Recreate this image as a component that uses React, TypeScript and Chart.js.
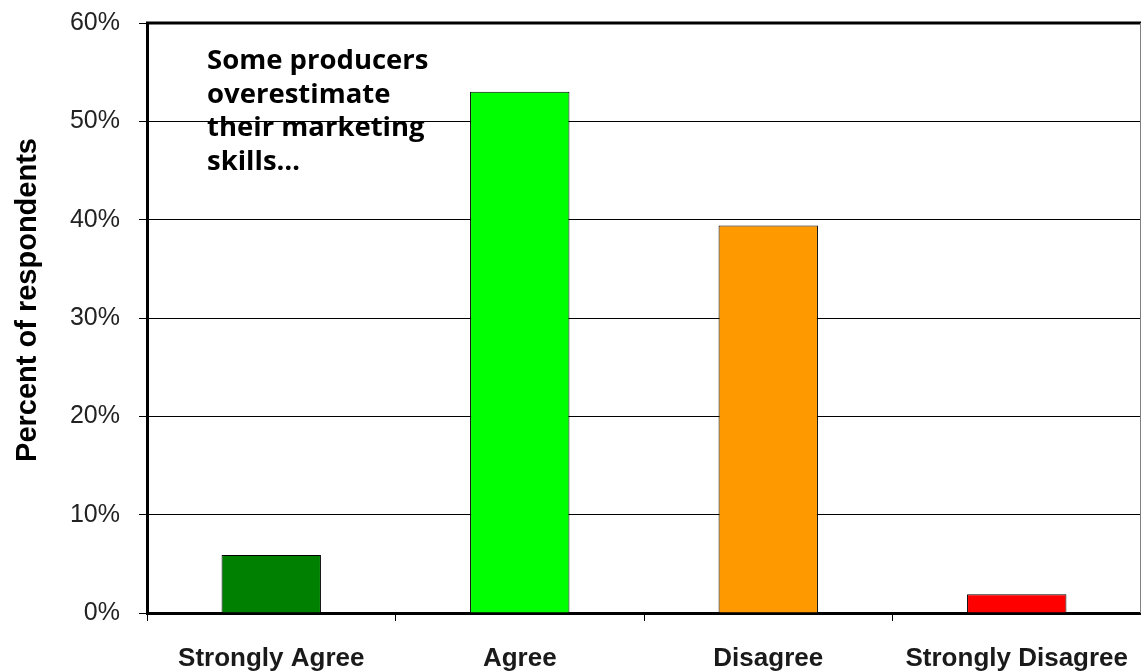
import React, { useEffect, useRef } from "react";
import { Chart, registerables } from "chart.js";

Chart.register(...registerables);

const categories = ["Strongly Agree", "Agree", "Disagree", "Strongly Disagree"];
const percentValues = [5.9, 53.0, 39.4, 1.9];
const barColors = ["#008000", "#00FF00", "#FF9900", "#FF0000"];
const yTickValues = [0, 10, 20, 30, 40, 50, 60];
const annotationLines = ["Some producers", "overestimate", "their marketing", "skills…"];
const yAxisTitle = "Percent of respondents";

const framePlugin = {
  id: "frameAndNote",
  afterDraw(chart: any) {
    const { ctx, chartArea } = chart;
    ctx.save();
    // top border
    ctx.strokeStyle = "#000";
    ctx.lineWidth = 3;
    ctx.beginPath();
    ctx.moveTo(chartArea.left - 1, chartArea.top);
    ctx.lineTo(chartArea.right, chartArea.top);
    ctx.stroke();
    // right border
    ctx.strokeStyle = "#808080";
    ctx.lineWidth = 1;
    ctx.beginPath();
    ctx.moveTo(chartArea.right - 0.5, chartArea.top);
    ctx.lineTo(chartArea.right - 0.5, chartArea.bottom);
    ctx.stroke();
    // y-axis title
    ctx.save();
    ctx.translate(28, 300);
    ctx.rotate(-Math.PI / 2);
    ctx.fillStyle = "#000";
    ctx.font = "bold 29px 'Liberation Sans', Arial";
    ctx.textAlign = "center";
    ctx.textBaseline = "middle";
    ctx.fillText(yAxisTitle, 0, 0);
    ctx.restore();
    // annotation text
    ctx.fillStyle = "#000";
    ctx.font = "bold 27.5px 'Open Sans'";
    ctx.textAlign = "left";
    ctx.textBaseline = "alphabetic";
    const x = chartArea.left + 60;
    annotationLines.forEach((line, i) => {
      ctx.fillText(line, x, chartArea.top + 46 + i * 33.7);
    });
    ctx.restore();
  },
};

export default function App() {
  const canvasRef = useRef<HTMLCanvasElement | null>(null);

  useEffect(() => {
    document.body.style.margin = "0";
    const canvas = canvasRef.current;
    if (!canvas) return;
    const chart = new Chart(canvas, {
      type: "bar",
      data: {
        labels: categories,
        datasets: [
          {
            data: percentValues,
            backgroundColor: barColors,
            borderColor: "#000",
            borderWidth: 1,
            barPercentage: 0.4,
            categoryPercentage: 1,
          },
        ],
      },
      options: {
        animation: false,
        responsive: true,
        maintainAspectRatio: false,
        layout: { padding: { top: 23, right: 0, left: 0, bottom: 0 } },
        plugins: {
          legend: { display: false },
          tooltip: { enabled: false },
        },
        scales: {
          x: {
            offset: true,
            grid: {
              offset: true,
              drawOnChartArea: false,
              drawTicks: true,
              tickLength: 8,
              color: "#000",
              lineWidth: 1,
            },
            border: { color: "#000", width: 3 },
            ticks: {
              autoSkip: false,
              maxRotation: 0,
              minRotation: 0,
              color: "#1a1a1a",
              font: { family: "'Liberation Sans', Arial", size: 26, weight: "bold" },
              padding: 22,
            },
            afterFit: (s: any) => {
              s.height = 59;
              s.paddingLeft = 0;
              s.paddingRight = 0;
            },
          },
          y: {
            min: 0,
            max: 60,
            afterBuildTicks: (s: any) => {
              s.ticks = yTickValues.map((v) => ({ value: v }));
            },
            ticks: {
              callback: (v: any) => v + "%",
              color: "#222",
              font: { family: "'Liberation Sans', Arial", size: 25 },
              padding: 19,
            },
            grid: {
              color: "#000",
              lineWidth: 1,
              tickLength: 8,
            },
            border: { color: "#000", width: 3 },
            afterFit: (s: any) => {
              s.width = 147;
              s.paddingTop = 0;
              s.paddingBottom = 0;
            },
          },
        },
      },
      plugins: [framePlugin],
    });
    return () => chart.destroy();
  }, []);

  return (
    <div style={{ position: "relative", width: "1141px", height: "672px" }}>
      <canvas ref={canvasRef} />
    </div>
  );
}
